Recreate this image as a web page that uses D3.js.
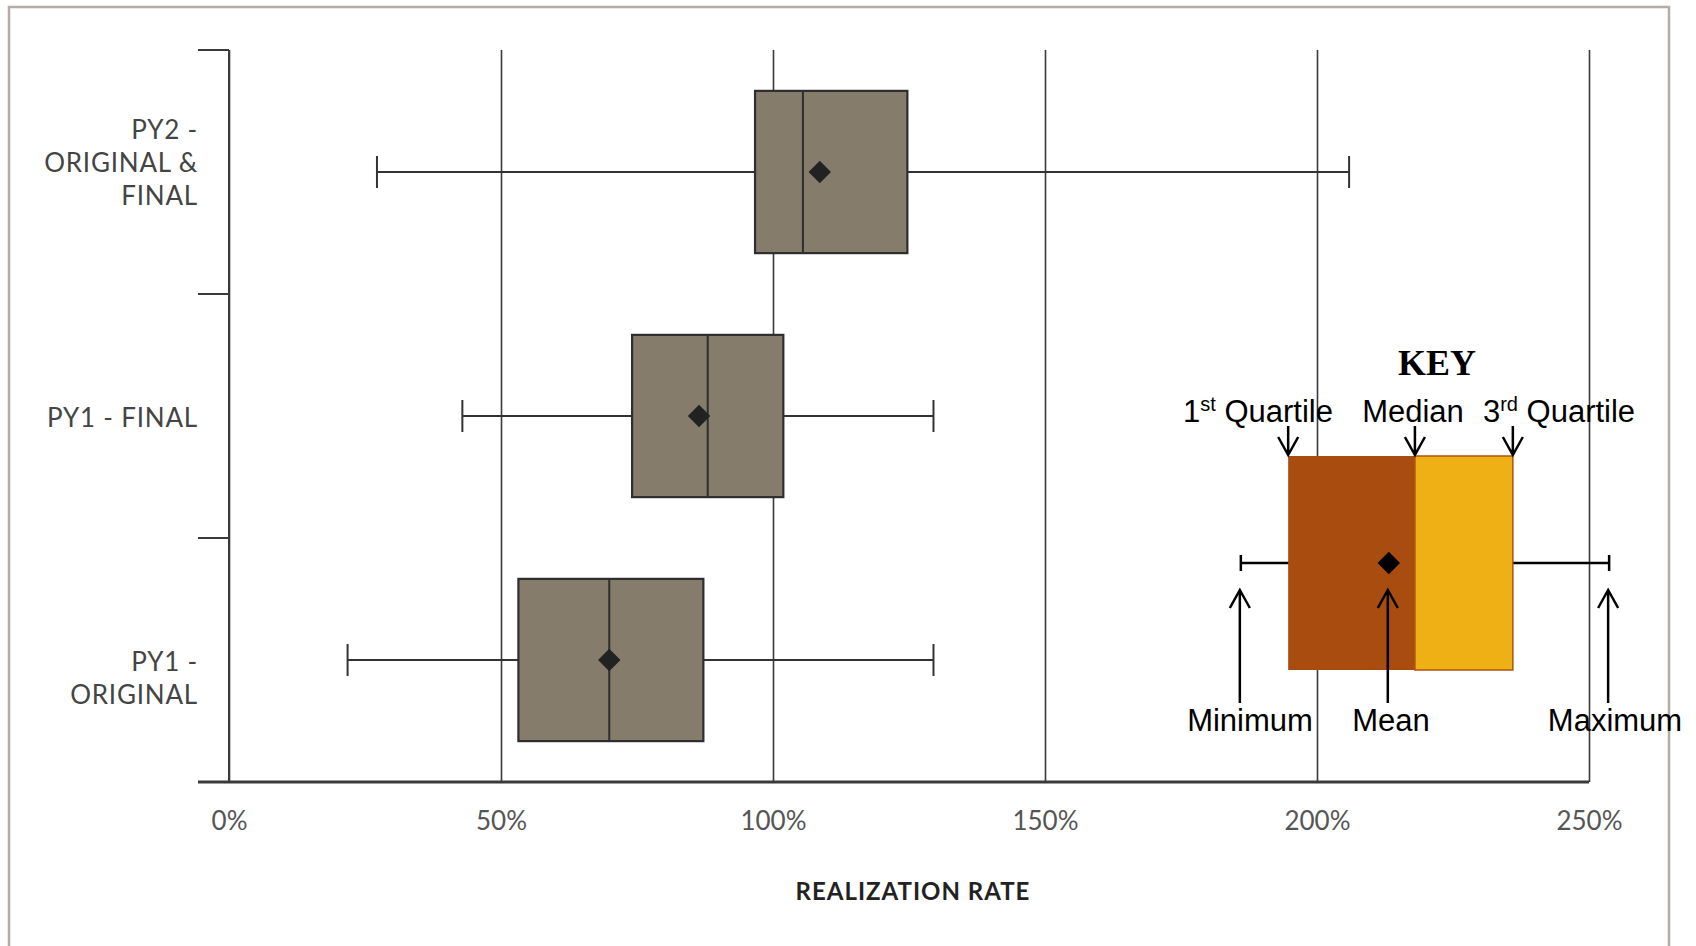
<!DOCTYPE html>
<html>
<head>
<meta charset="utf-8">
<script src="https://cdn.jsdelivr.net/npm/d3@7"></script>
<style>
  body { margin: 0; background: #fff; }
  svg { display: block; }
</style>
</head>
<body>
<script>
// data (realization rate, %)
const categories = ["PY2 - ORIGINAL & FINAL", "PY1 - FINAL", "PY1 - ORIGINAL"];
const labelLines = [["PY2 -", "ORIGINAL &", "FINAL"], ["PY1 - FINAL"], ["PY1 -", "ORIGINAL"]];
const minVals = [27.2, 42.9, 21.8];
const q1Vals = [96.7, 74.1, 53.2];
const medianVals = [105.5, 88.0, 69.9];
const q3Vals = [124.7, 101.9, 87.2];
const maxVals = [205.9, 129.5, 129.5];
const meanVals = [108.6, 86.4, 69.9];
const xTicks = [0, 50, 100, 150, 200, 250];

// key illustration, drawn on the same x scale
const keyNames = ["Minimum", "1st Quartile", "Median", "3rd Quartile", "Maximum", "Mean"];
const keyValues = [186, 194.7, 218, 236, 253.7, 213.2];

const width = 1696, height = 946;
const plotLeft = 229, plotRight = 1589, plotTop = 50, plotBottom = 782;

const svg = d3.select("body").append("svg")
    .attr("width", width)
    .attr("height", height);

// frame
svg.append("path")
    .attr("d", `M9,${height} V7 H1669 V${height}`)
    .attr("fill", "none")
    .attr("stroke", "#b5ada4")
    .attr("stroke-width", 2.5);

const x = d3.scaleLinear().domain([0, 250]).range([plotLeft, plotRight]);
const y = d3.scaleBand().domain(categories).range([plotTop, plotBottom]).padding(0);
const boxH = y.bandwidth() * 0.665;

// vertical grid lines + tick labels
const gx = svg.append("g")
    .attr("transform", `translate(0,${plotBottom})`)
    .call(d3.axisBottom(x).tickValues(xTicks).tickFormat(d => d + "%").tickSize(-(plotBottom - plotTop)).tickPadding(30));
gx.select(".domain").remove();
gx.selectAll(".tick line").attr("stroke", "#3a3a3a").attr("stroke-width", 1.6);
gx.selectAll(".tick text")
    .attr("fill", "#555")
    .attr("font-family", "Lato, 'DejaVu Sans', sans-serif")
    .attr("font-size", 26);

// x axis line
svg.append("line")
    .attr("x1", 198).attr("x2", plotRight)
    .attr("y1", plotBottom).attr("y2", plotBottom)
    .attr("stroke", "#3a3a3a").attr("stroke-width", 2.8);

// y axis line and ticks between categories
svg.append("line")
    .attr("x1", plotLeft).attr("x2", plotLeft)
    .attr("y1", plotTop).attr("y2", plotBottom)
    .attr("stroke", "#3a3a3a").attr("stroke-width", 2);
svg.append("g").selectAll("line")
  .data(categories)
  .join("line")
    .attr("x1", 198).attr("x2", plotLeft)
    .attr("y1", d => y(d)).attr("y2", d => y(d))
    .attr("stroke", "#3a3a3a").attr("stroke-width", 2);

// category labels
const lab = svg.append("g")
    .attr("font-family", "Lato, 'DejaVu Sans', sans-serif")
    .attr("font-size", 26)
    .attr("letter-spacing", 0.8)
    .attr("fill", "#444")
    .attr("text-anchor", "end");
categories.forEach((c, i) => {
  const lines = labelLines[i];
  const cy = y(c) + y.bandwidth() / 2;
  const first = lines.length === 3 ? cy - 33 : cy + 11;
  const t = lab.append("text").attr("x", 198).attr("y", first);
  lines.forEach((l, j) => {
    t.append("tspan").attr("x", 198).attr("y", first + j * 33).text(l);
  });
});

// box plots
const boxes = svg.append("g").selectAll("g")
  .data(categories)
  .join("g")
    .attr("transform", d => `translate(0,${y(d) + y.bandwidth() / 2})`);

boxes.append("line")
    .attr("x1", (d, i) => x(minVals[i])).attr("x2", (d, i) => x(maxVals[i]))
    .attr("stroke", "#333").attr("stroke-width", 2);
boxes.append("line")
    .attr("x1", (d, i) => x(minVals[i])).attr("x2", (d, i) => x(minVals[i]))
    .attr("y1", -16).attr("y2", 16)
    .attr("stroke", "#333").attr("stroke-width", 2);
boxes.append("line")
    .attr("x1", (d, i) => x(maxVals[i])).attr("x2", (d, i) => x(maxVals[i]))
    .attr("y1", -16).attr("y2", 16)
    .attr("stroke", "#333").attr("stroke-width", 2);
boxes.append("rect")
    .attr("x", (d, i) => x(q1Vals[i]))
    .attr("width", (d, i) => x(q3Vals[i]) - x(q1Vals[i]))
    .attr("y", -boxH / 2).attr("height", boxH)
    .attr("fill", "#857c6b").attr("stroke", "#2e2e2e").attr("stroke-width", 2.2);
boxes.append("line")
    .attr("x1", (d, i) => x(medianVals[i])).attr("x2", (d, i) => x(medianVals[i]))
    .attr("y1", -boxH / 2).attr("y2", boxH / 2)
    .attr("stroke", "#2e2e2e").attr("stroke-width", 2);
boxes.append("path")
    .attr("d", d3.symbol(d3.symbolDiamond2, 320))
    .attr("transform", (d, i) => `translate(${x(meanVals[i])},0)`)
    .attr("fill", "#222");

// axis title
svg.append("text")
    .attr("x", (plotLeft + plotRight) / 2 + 4).attr("y", 900)
    .attr("text-anchor", "middle")
    .attr("font-family", "Lato, 'DejaVu Sans', sans-serif")
    .attr("font-weight", "bold")
    .attr("font-size", 24)
    .attr("letter-spacing", 1)
    .attr("fill", "#222")
    .text("REALIZATION RATE");

// ---- KEY ----
const kv = {};
keyNames.forEach((n, i) => kv[n] = keyValues[i]);
const keyY = 563, keyH = 214;
const key = svg.append("g");

key.append("text")
    .attr("x", 1437).attr("y", 375)
    .attr("text-anchor", "middle")
    .attr("font-family", "'Liberation Serif', serif")
    .attr("font-weight", "bold")
    .attr("font-size", 36)
    .text("KEY");

key.append("line")
    .attr("x1", x(kv["Minimum"])).attr("x2", x(kv["Maximum"]))
    .attr("y1", keyY).attr("y2", keyY)
    .attr("stroke", "#000").attr("stroke-width", 2.5);
[kv["Minimum"], kv["Maximum"]].forEach(v => {
  key.append("line")
      .attr("x1", x(v)).attr("x2", x(v))
      .attr("y1", keyY - 8).attr("y2", keyY + 8)
      .attr("stroke", "#000").attr("stroke-width", 2.5);
});
key.append("rect")
    .attr("x", x(kv["1st Quartile"])).attr("y", keyY - keyH / 2)
    .attr("width", x(kv["Median"]) - x(kv["1st Quartile"])).attr("height", keyH)
    .attr("fill", "#a84c10");
key.append("rect")
    .attr("x", x(kv["Median"])).attr("y", keyY - keyH / 2)
    .attr("width", x(kv["3rd Quartile"]) - x(kv["Median"])).attr("height", keyH)
    .attr("fill", "#eeb014").attr("stroke", "#b2520f").attr("stroke-width", 1.5);
key.append("path")
    .attr("d", d3.symbol(d3.symbolDiamond2, 320))
    .attr("transform", `translate(${x(kv["Mean"])},${keyY})`)
    .attr("fill", "#000");

function arrow(xp, y1, y2) {
  const dir = y2 > y1 ? 1 : -1;
  key.append("path")
      .attr("d", `M${xp},${y1} V${y2} M${xp - 10},${y2 - dir * 18} L${xp},${y2} L${xp + 10},${y2 - dir * 18}`)
      .attr("fill", "none").attr("stroke", "#000").attr("stroke-width", 2.5);
}
const boxTop = keyY - keyH / 2;
["1st Quartile", "Median", "3rd Quartile"].forEach(n => arrow(x(kv[n]), boxTop - 30, boxTop - 1));
["Minimum", "Mean", "Maximum"].forEach(n => arrow(x(kv[n]) - 1, 703, 590));

const kt = key.append("g")
    .attr("font-family", "'Liberation Sans', Arial, sans-serif")
    .attr("font-size", 31)
    .attr("fill", "#000")
    .attr("text-anchor", "middle");

function supLabel(cx, num, sup, rest) {
  const t = kt.append("text").attr("x", cx).attr("y", 422);
  t.append("tspan").text(num);
  t.append("tspan").attr("font-size", 20).attr("dy", -11).text(sup);
  t.append("tspan").attr("dy", 11).text(" " + rest);
}
supLabel(1258, "1", "st", "Quartile");
kt.append("text").attr("x", 1413).attr("y", 422).text("Median");
supLabel(1559, "3", "rd", "Quartile");

kt.append("text").attr("x", 1250).attr("y", 731).text("Minimum");
kt.append("text").attr("x", 1391).attr("y", 731).text("Mean");
kt.append("text").attr("x", 1615).attr("y", 731).text("Maximum");
</script>
</body>
</html>
